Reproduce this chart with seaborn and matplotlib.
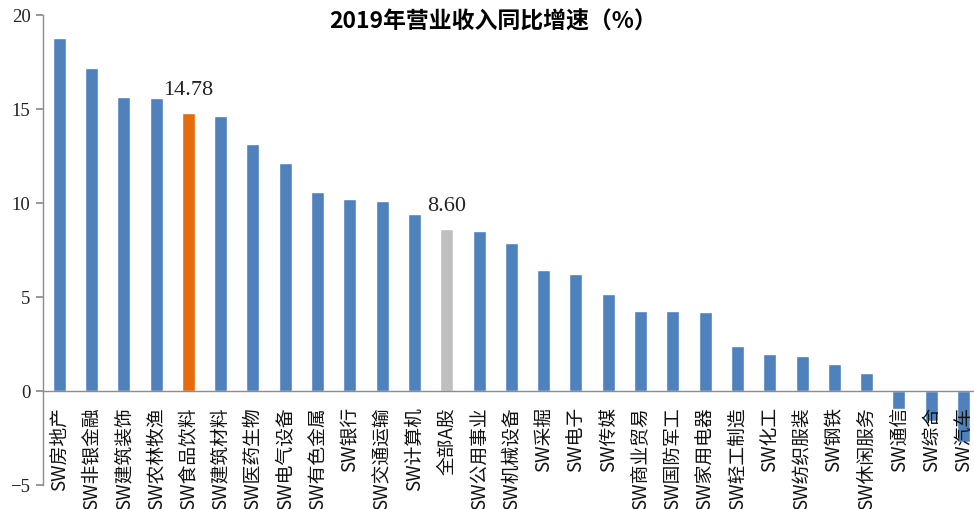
import matplotlib
matplotlib.use("Agg")
import matplotlib.pyplot as plt
import numpy as np
import pandas as pd
import seaborn as sns

# 申万行业 2019年营业收入同比增速(%)
categories = ["SW房地产", "SW非银金融", "SW建筑装饰", "SW农林牧渔", "SW食品饮料",
              "SW建筑材料", "SW医药生物", "SW电气设备", "SW有色金属", "SW银行",
              "SW交通运输", "SW计算机", "全部A股", "SW公用事业", "SW机械设备",
              "SW采掘", "SW电子", "SW传媒", "SW商业贸易", "SW国防军工",
              "SW家用电器", "SW轻工制造", "SW化工", "SW纺织服装", "SW钢铁",
              "SW休闲服务", "SW通信", "SW综合", "SW汽车"]
values = [18.78, 17.18, 15.64, 15.57, 14.78,
          14.61, 13.12, 12.13, 10.60, 10.21,
          10.11, 9.41, 8.60, 8.51, 7.89,
          6.42, 6.21, 5.18, 4.24, 4.24,
          4.20, 2.38, 1.95, 1.88, 1.46,
          0.94, -0.95, -1.58, -2.70]
highlight = {"SW食品饮料": "#E46C0A", "全部A股": "#BFBFBF"}
labeled = ["SW食品饮料", "全部A股"]
base_color = "#4F81BD"

sns.set_theme(style="white")
plt.rcParams['font.family'] = ['Noto Sans CJK SC', 'DejaVu Sans']

df = pd.DataFrame({"cat": categories, "val": values})
palette = {c: highlight.get(c, base_color) for c in categories}

fig = plt.figure(figsize=(9.74, 5.10), dpi=100)
ax = fig.add_axes([43 / 974, 24 / 510, 29 * 32.3 / 974, 470 / 510])

sns.barplot(data=df, x="cat", y="val", hue="cat", palette=palette,
            width=0.4, legend=False, ax=ax, saturation=1)
for p in ax.patches:
    p.set_zorder(1)
ax.set_axisbelow(False)

ax.set_ylim(-5, 20)
ax.set_xlim(-0.5, len(categories) - 0.5)
ax.set_yticks([-5, 0, 5, 10, 15, 20])
ax.set_yticklabels(["−5", "0", "5", "10", "15", "20"],
                   family="Liberation Serif", fontsize=13.5, color="#222222")
ax.set_xlabel("")
ax.set_ylabel("")

# x axis at zero, ticks between categories
ax.spines["bottom"].set_position(("data", 0))
for s in ["top", "right"]:
    ax.spines[s].set_visible(False)
for s in ["left", "bottom"]:
    ax.spines[s].set_color("#8C8C8C")
    ax.spines[s].set_linewidth(1.0)

ax.set_xticks(range(len(categories)))
ax.set_xticklabels(categories, rotation=90, fontsize=13.5, color="#111111",
                   va="top", ha="center")
ax.set_xticks(np.arange(-0.5, len(categories), 1), minor=True)
ax.tick_params(axis="x", which="major", length=0, pad=11)
ax.tick_params(axis="x", which="minor", length=5, color="#8C8C8C", direction="out")
ax.tick_params(axis="y", length=5, color="#8C8C8C", direction="out", left=True, pad=4)

for c in labeled:
    i = categories.index(c)
    ax.text(i, values[i] + 0.75, f"{values[i]:.2f}", ha="center", va="bottom",
            family="Liberation Serif", fontsize=16, color="#222222")

fig.text(493 / 974, 1 - 22 / 510, "2019年营业收入同比增速（%）", ha="center", va="center",
         fontsize=16.5, fontweight="bold", color="black")

fig.savefig("out.png", dpi=100)
